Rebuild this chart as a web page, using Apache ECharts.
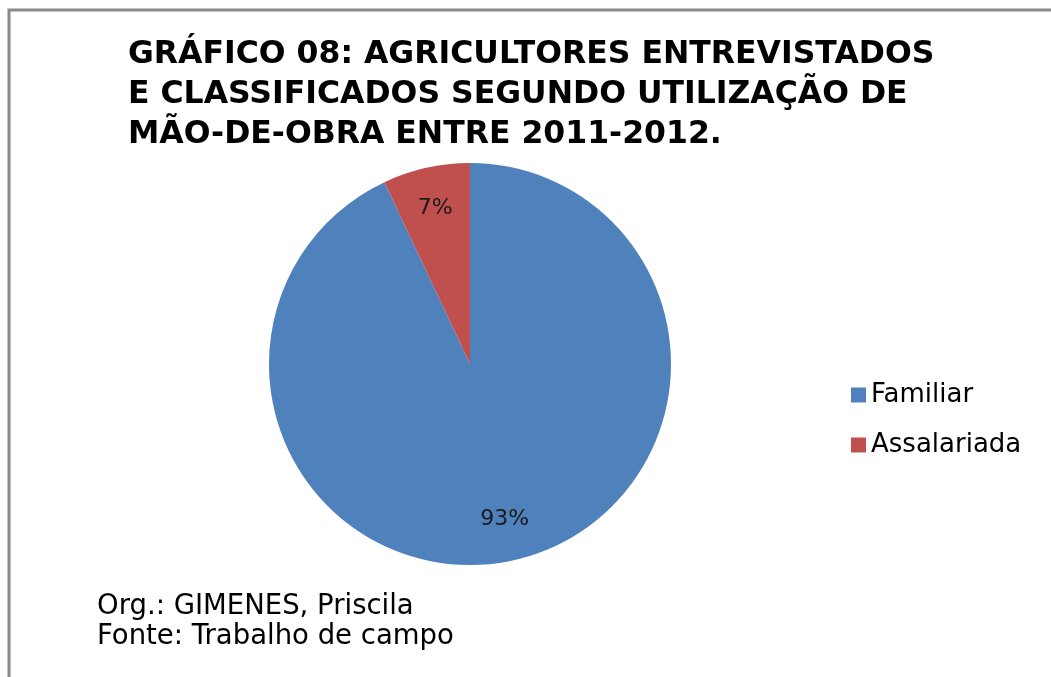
<!DOCTYPE html>
<html>
<head>
<meta charset="utf-8">
<script src="https://cdn.jsdelivr.net/npm/echarts@6/dist/echarts.min.js"></script>
<style>
html,body{margin:0;padding:0;background:#fff;}
#chart{width:1051px;height:677px;}
</style>
</head>
<body>
<div id="chart"></div>
<script>
const titleLines = [
  'GRÁFICO 08: AGRICULTORES ENTREVISTADOS',
  'E CLASSIFICADOS SEGUNDO UTILIZAÇÃO DE',
  'MÃO-DE-OBRA ENTRE 2011-2012.'
];
const categories = ['Familiar', 'Assalariada'];
const values = [93, 7];
const colors = ['#4F81BD', '#C0504D'];
const footerLines = ['Org.: GIMENES, Priscila', 'Fonte: Trabalho de campo'];

const FONT = 'DejaVu Sans';
const chart = echarts.init(document.getElementById('chart'), null, {renderer: 'canvas'});

const mainData = categories.map((c, i) => ({name: c, value: values[i], itemStyle: {color: colors[i]}}));
const labelData = values.map(v => ({value: v}));

chart.setOption({
  backgroundColor: '#ffffff',
  animation: false,
  title: {
    text: titleLines.join('\n'),
    left: 128,
    top: 35,
    padding: 0,
    textStyle: {fontFamily: FONT, fontSize: 31.5, fontWeight: 'bold', color: '#000', lineHeight: 40}
  },
  legend: {
    orient: 'vertical',
    left: 851,
    top: 382,
    padding: 0,
    itemWidth: 15,
    itemHeight: 15,
    itemGap: 24,
    icon: 'rect',
    data: categories,
    textStyle: {fontFamily: FONT, fontSize: 26, color: '#000', lineHeight: 26}
  },
  graphic: [
    {
      type: 'rect',
      shape: {x: 9, y: 10, width: 1200, height: 1000},
      style: {fill: 'none', stroke: '#8a8a8a', lineWidth: 3},
      silent: true
    },
    {
      type: 'text',
      left: 97,
      top: 592,
      style: {
        text: footerLines.join('\n'),
        font: '27.5px "' + FONT + '"',
        fill: '#000',
        lineHeight: 30
      },
      silent: true
    }
  ],
  series: [
    {
      type: 'pie',
      center: [470, 364],
      radius: 201,
      startAngle: 90,
      clockwise: true,
      avoidLabelOverlap: false,
      silent: true,
      label: {show: false},
      labelLine: {show: false},
      itemStyle: {borderWidth: 0},
      data: mainData
    },
    {
      type: 'pie',
      center: [470, 364],
      radius: [112, 201],
      startAngle: 90,
      clockwise: true,
      avoidLabelOverlap: false,
      silent: true,
      z: 3,
      itemStyle: {color: 'rgba(0,0,0,0)', borderWidth: 0},
      label: {
        show: true,
        position: 'inside',
        formatter: '{d}%',
        fontFamily: FONT,
        fontSize: 22,
        color: '#1a1a1a'
      },
      labelLine: {show: false},
      data: labelData
    }
  ]
});
</script>
</body>
</html>
